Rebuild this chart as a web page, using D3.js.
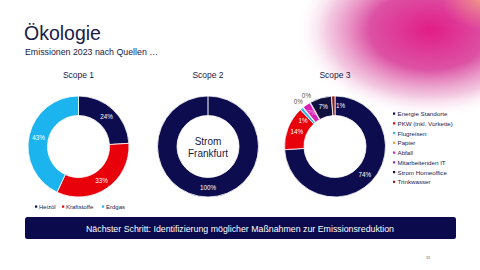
<!DOCTYPE html>
<html><head><meta charset="utf-8">
<script src="https://cdn.jsdelivr.net/npm/d3@7"></script>
<style>html,body{margin:0;padding:0;background:#fff;}svg{display:block;font-family:"Liberation Sans",Arial,sans-serif;}</style>
</head><body>
<script>
const scope1Cats = ["Heizöl","Kraftstoffe","Erdgas"];
const scope1Vals = [24,33,43];
const scope1Colors = ["#0c0c4e","#e8000b","#1cb4ee"];

const scope2Cats = ["Strom Frankfurt"];
const scope2Vals = [100];

const scope3Cats = ["Energie Standorte","PKW (inkl. Vorkette)","Flugreisen","Papier","Abfall","Mitarbeitenden IT","Strom Homeoffice","Trinkwasser"];
const scope3Vals = [74,14,1,0.2,2.5,0.2,7,1.1];
const scope3Labels = ["74%","14%","1%","0%","2%","0%","7%","1%"];
const scope3Colors = ["#0c0c4e","#e8000b","#3ab4e6","#f5a623","#d81fb6","#8e2fbf","#10103e","#8b1f1f"];

const W=480,H=270;
const svg=d3.select("body").append("svg").attr("width",W).attr("height",H);
const defs=svg.append("defs");
const g1=defs.append("radialGradient").attr("id","pink").attr("cx",0.5).attr("cy",0.5).attr("r",0.5);
g1.append("stop").attr("offset","0%").attr("stop-color","#e21c86").attr("stop-opacity",1);
g1.append("stop").attr("offset","45%").attr("stop-color","#d83a98").attr("stop-opacity",0.88);
g1.append("stop").attr("offset","75%").attr("stop-color","#e070b0").attr("stop-opacity",0.4);
g1.append("stop").attr("offset","100%").attr("stop-color","#ffffff").attr("stop-opacity",0);
const g2=defs.append("radialGradient").attr("id","peach").attr("cx",0.5).attr("cy",0.5).attr("r",0.5);
g2.append("stop").attr("offset","0%").attr("stop-color","#f4a57c").attr("stop-opacity",1);
g2.append("stop").attr("offset","100%").attr("stop-color","#f08090").attr("stop-opacity",0);

svg.append("ellipse").attr("cx",430).attr("cy",30).attr("rx",135).attr("ry",88).attr("fill","url(#pink)");
svg.append("ellipse").attr("cx",485).attr("cy",-5).attr("rx",45).attr("ry",35).attr("fill","url(#peach)");

const navyText="#1a1a4a";
svg.append("text").attr("x",24).attr("y",40).attr("font-size",19.5).attr("fill",navyText).text("Ökologie");
svg.append("text").attr("x",25).attr("y",55).attr("font-size",8.8).attr("fill",navyText).text("Emissionen 2023 nach Quellen …");

const cy=146.5, rO=50.5, rI=31;
const pie=d3.pie().sort(null).value(d=>d);
const arc=d3.arc().innerRadius(rI).outerRadius(rO);
const labelArc=d3.arc().innerRadius(41).outerRadius(41);

function donut(cx,vals,colors,title){
  const g=svg.append("g").attr("transform",`translate(${cx},${cy})`);
  svg.append("text").attr("x",cx).attr("y",78).attr("text-anchor","middle").attr("font-size",8.5).attr("fill",navyText).text(title);
  const arcs=pie(vals);
  g.selectAll("path").data(arcs).enter().append("path").attr("d",arc).attr("fill",(d,i)=>colors[i]).attr("stroke","#fff").attr("stroke-width",0.8);
  return {g,arcs};
}

// Scope 1
const s1=donut(78.5,scope1Vals,scope1Colors,"Scope 1");
s1.g.selectAll("text.l").data(s1.arcs).enter().append("text").attr("class","l")
  .attr("transform",d=>`translate(${labelArc.centroid(d)})`).attr("text-anchor","middle").attr("dy","0.35em")
  .attr("font-size",6.3).attr("fill","#fff").text(d=>d.data+"%");
const leg1=svg.append("g");
const leg1X=[35,62,102];
scope1Cats.forEach((c,i)=>{
  leg1.append("rect").attr("x",leg1X[i]).attr("y",205.5).attr("width",2.2).attr("height",2.2).attr("fill",scope1Colors[i]);
  leg1.append("text").attr("x",leg1X[i]+4).attr("y",209).attr("font-size",6).attr("fill",navyText).text(c);
});

// Scope 2
const s2=donut(208,scope2Vals,["#0c0c4e"],"Scope 2");
s2.g.append("line").attr("x1",0).attr("x2",0).attr("y1",-rO).attr("y2",-rI).attr("stroke","#fff").attr("stroke-width",1);
s2.g.selectAll("text.l").data(s2.arcs).enter().append("text").attr("class","l")
  .attr("transform",d=>`translate(${labelArc.centroid(d)})`).attr("text-anchor","middle").attr("dy","0.35em")
  .attr("font-size",6.3).attr("fill","#fff").text(d=>d.data+"%");
const ct=s2.g.append("text").attr("text-anchor","middle").attr("font-size",10).attr("fill",navyText);
ct.append("tspan").attr("x",0).attr("y",-2).text("Strom");
ct.append("tspan").attr("x",0).attr("y",10).text("Frankfurt");

// Scope 3
const s3=donut(335,scope3Vals,scope3Colors,"Scope 3");
const outArc=d3.arc().innerRadius(58).outerRadius(58);
const nudge=[0,0,-0.17,0,0,0,0,0.17];
s3.g.selectAll("text.l").data(s3.arcs).enter().append("text").attr("class","l")
  .attr("transform",(d,i)=>{
    const small=scope3Vals[i]<0.5;
    const a=small?outArc:labelArc;
    const dd={startAngle:d.startAngle+nudge[i],endAngle:d.endAngle+nudge[i]};
    return `translate(${a.centroid(dd)})`;
  })
  .attr("text-anchor","middle").attr("dy","0.35em").attr("font-size",6.3)
  .attr("fill",(d,i)=>scope3Vals[i]<0.5?"#555":(i===4?"#f4b8e4":"#fff"))
  .text((d,i)=>scope3Labels[i]);
const leg3=svg.append("g");
scope3Cats.forEach((c,i)=>{
  const y=116+i*9.75;
  leg3.append("rect").attr("x",393).attr("y",y-3.5).attr("width",2.2).attr("height",2.2).attr("fill",scope3Colors[i]);
  leg3.append("text").attr("x",397.5).attr("y",y).attr("font-size",6.2).attr("fill",navyText).text(c);
});

// Banner
svg.append("rect").attr("x",25).attr("y",217).attr("width",431).attr("height",22).attr("rx",2.5).attr("fill","#0a0a4c");
svg.append("text").attr("x",240).attr("y",231.5).attr("text-anchor","middle").attr("font-size",8.8).attr("fill","#fff")
  .text("Nächster Schritt: Identifizierung möglicher Maßnahmen zur Emissionsreduktion");
svg.append("text").attr("x",428).attr("y",259).attr("text-anchor","middle").attr("font-size",3.5).attr("fill","#666").text("33");
</script>
</body></html>
